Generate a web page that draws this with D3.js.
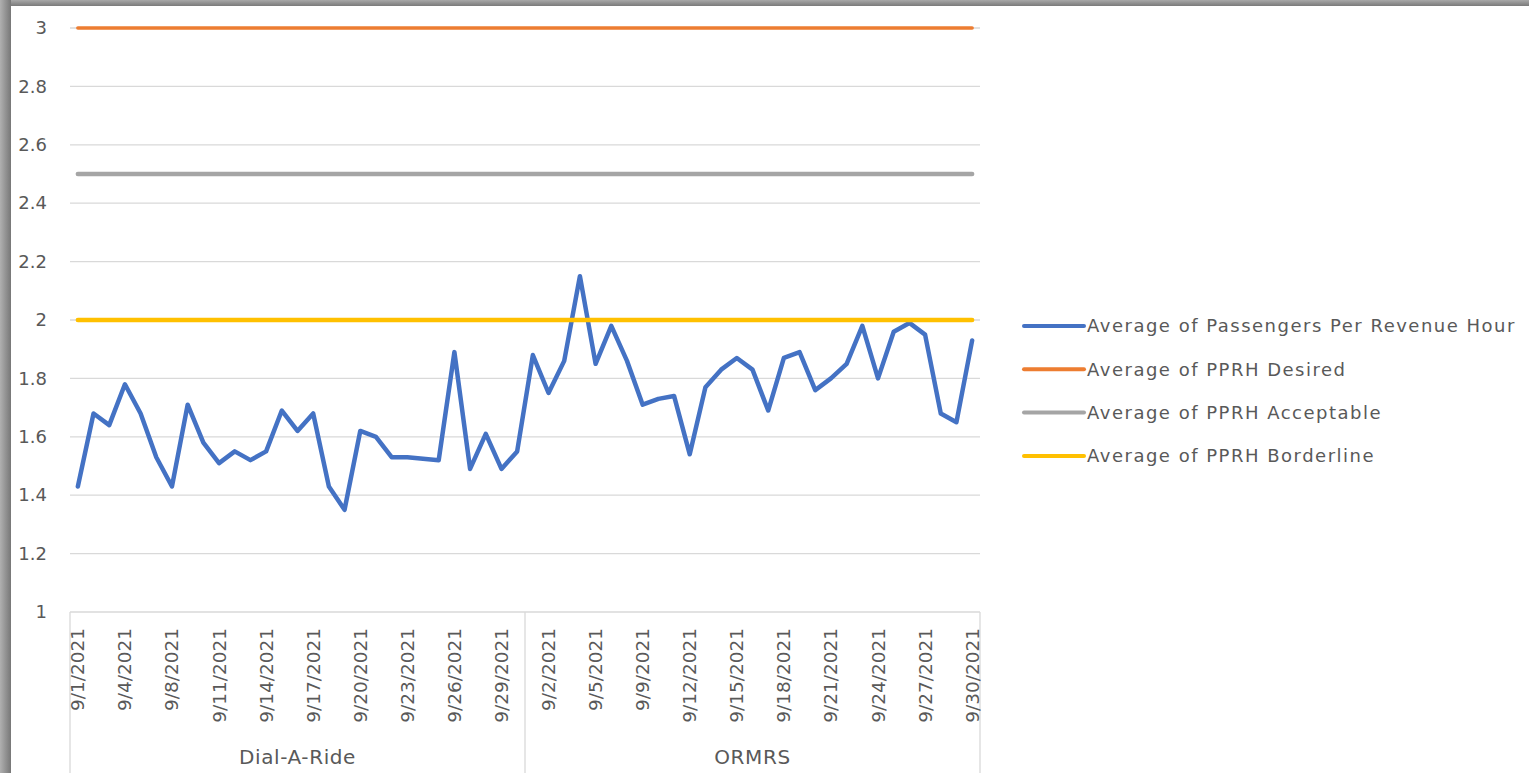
<!DOCTYPE html>
<html>
<head>
<meta charset="utf-8">
<script src="https://cdn.jsdelivr.net/npm/d3@7"></script>
<style>
  body { margin: 0; background: #fff; }
  svg { display: block; }
  text { font-family: "DejaVu Sans", sans-serif; fill: #595959; }
</style>
</head>
<body>
<svg width="1529" height="773"></svg>
<script>
// groups and their dates (one day missing from each group)
var groups = ['Dial-A-Ride', 'ORMRS'];
var darDates = ['9/1/2021','9/2/2021','9/3/2021','9/4/2021','9/5/2021','9/7/2021','9/8/2021','9/9/2021','9/10/2021','9/11/2021',
  '9/12/2021','9/13/2021','9/14/2021','9/15/2021','9/16/2021','9/17/2021','9/18/2021','9/19/2021','9/20/2021','9/21/2021',
  '9/22/2021','9/23/2021','9/24/2021','9/25/2021','9/26/2021','9/27/2021','9/28/2021','9/29/2021','9/30/2021'];
var ormrsDates = ['9/1/2021','9/2/2021','9/3/2021','9/4/2021','9/5/2021','9/7/2021','9/8/2021','9/9/2021','9/10/2021','9/11/2021',
  '9/12/2021','9/13/2021','9/14/2021','9/15/2021','9/16/2021','9/17/2021','9/18/2021','9/19/2021','9/20/2021','9/21/2021',
  '9/22/2021','9/23/2021','9/24/2021','9/25/2021','9/26/2021','9/27/2021','9/28/2021','9/29/2021','9/30/2021'];

// Average of Passengers Per Revenue Hour
var darPPRH = [1.43,1.68,1.64,1.78,1.68,1.53,1.43,1.71,1.58,1.51,1.55,1.52,1.55,1.69,1.62,1.68,1.43,1.35,1.62,1.60,
  1.53,1.53,1.525,1.52,1.89,1.49,1.61,1.49,1.55];
var ormrsPPRH = [1.88,1.75,1.86,2.15,1.85,1.98,1.86,1.71,1.73,1.74,1.54,1.77,1.83,1.87,1.83,1.69,1.87,1.89,1.76,1.80,
  1.85,1.98,1.80,1.96,1.99,1.95,1.68,1.65,1.93];

// target levels
var desired = 3, acceptable = 2.5, borderline = 2;

var yTicks = [1, 1.2, 1.4, 1.6, 1.8, 2, 2.2, 2.4, 2.6, 2.8, 3];

var seriesNames = ['Average of Passengers Per Revenue Hour', 'Average of PPRH Desired',
  'Average of PPRH Acceptable', 'Average of PPRH Borderline'];
var colors = ['#4472C4', '#ED7D31', '#A5A5A5', '#FFC000'];

var svg = d3.select('svg');

// window frame shadow on top and left
var defs = svg.append('defs');
var gTop = defs.append('linearGradient').attr('id', 'gTop').attr('x1', 0).attr('x2', 0).attr('y1', 0).attr('y2', 1);
gTop.append('stop').attr('offset', '0%').attr('stop-color', '#a8a8a8');
gTop.append('stop').attr('offset', '100%').attr('stop-color', '#7a7a7a');
var gLeft = defs.append('linearGradient').attr('id', 'gLeft');
gLeft.append('stop').attr('offset', '0%').attr('stop-color', '#b0b0b0');
gLeft.append('stop').attr('offset', '100%').attr('stop-color', '#777');
svg.append('rect').attr('x', 0).attr('y', 0).attr('width', 1529).attr('height', 6).attr('fill', 'url(#gTop)');
svg.append('rect').attr('x', 0).attr('y', 0).attr('width', 11).attr('height', 773).attr('fill', 'url(#gLeft)');

// build rows
var rows = [];
darDates.forEach(function(d, i) { rows.push({group: groups[0], date: d, v: darPPRH[i]}); });
ormrsDates.forEach(function(d, i) { rows.push({group: groups[1], date: d, v: ormrsPPRH[i]}); });
rows.forEach(function(d, i) { d.i = i; });

var plot = {l: 70, r: 980, t: 28, b: 612};

var x = d3.scaleBand()
  .domain(rows.map(function(d) { return d.i; }))
  .range([plot.l, plot.r]);
var cx = function(i) { return x(i) + x.bandwidth() / 2; };

var y = d3.scaleLinear()
  .domain([1, 3])
  .range([plot.b, plot.t]);

// gridlines
svg.append('g')
  .selectAll('line')
  .data(yTicks.slice(1))
  .enter()
  .append('line')
  .attr('x1', plot.l).attr('x2', plot.r)
  .attr('y1', function(d) { return y(d); })
  .attr('y2', function(d) { return y(d); })
  .attr('stroke', '#d9d9d9')
  .attr('stroke-width', 1.3);

// y axis labels
var yAxis = d3.axisLeft(y).tickValues(yTicks).tickSize(0).tickPadding(23).tickFormat(d3.format('~g'));
var yg = svg.append('g').attr('transform', 'translate(' + plot.l + ',0)').call(yAxis);
yg.select('.domain').remove();
yg.selectAll('text').style('font-size', '18px').attr('fill', '#595959');

// x axis base line and group separators
var axisG = svg.append('g');
axisG.append('line')
  .attr('x1', plot.l).attr('x2', plot.r)
  .attr('y1', plot.b).attr('y2', plot.b)
  .attr('stroke', '#d9d9d9').attr('stroke-width', 1.3);

var bounds = [0, darDates.length, rows.length];
axisG.selectAll('.sep')
  .data(bounds)
  .enter()
  .append('line')
  .attr('class', 'sep')
  .attr('x1', function(d) { return d < rows.length ? x(d) : plot.r; })
  .attr('x2', function(d) { return d < rows.length ? x(d) : plot.r; })
  .attr('y1', plot.b).attr('y2', 773)
  .attr('stroke', '#d9d9d9').attr('stroke-width', 1.3);

// date labels, every third category
axisG.selectAll('.date')
  .data(rows.filter(function(d) { return d.i % 3 === 0; }))
  .enter()
  .append('text')
  .attr('class', 'date')
  .attr('transform', function(d) { return 'translate(' + (cx(d.i) + 6.5) + ',' + (plot.b + 16) + ') rotate(-90)'; })
  .attr('text-anchor', 'end')
  .style('font-size', '18.5px')
  .text(function(d) { return d.date; });

// group labels
axisG.selectAll('.grp')
  .data(groups)
  .enter()
  .append('text')
  .attr('class', 'grp')
  .attr('x', function(d, k) { return (x(bounds[k]) + (bounds[k + 1] < rows.length ? x(bounds[k + 1]) : plot.r)) / 2; })
  .attr('y', 764)
  .attr('text-anchor', 'middle')
  .style('font-size', '20px')
  .style('letter-spacing', '0.6px')
  .text(function(d) { return d; });

// series
var line = d3.line()
  .x(function(d) { return cx(d.i); })
  .y(function(d) { return y(d.v); });

var series = [
  rows,
  rows.map(function(d) { return {i: d.i, v: desired}; }),
  rows.map(function(d) { return {i: d.i, v: acceptable}; }),
  rows.map(function(d) { return {i: d.i, v: borderline}; })
];

svg.append('g')
  .selectAll('path')
  .data(series)
  .enter()
  .append('path')
  .attr('d', line)
  .attr('fill', 'none')
  .attr('stroke', function(d, k) { return colors[k]; })
  .attr('stroke-width', function(d, k) { return k === 1 ? 3.5 : 4.5; })
  .attr('stroke-linejoin', 'round')
  .attr('stroke-linecap', 'round');

// legend
var legend = svg.append('g')
  .selectAll('g')
  .data(seriesNames)
  .enter()
  .append('g')
  .attr('transform', function(d, k) { return 'translate(1024,' + (326 + k * 43.3) + ')'; });

legend.append('line')
  .attr('x1', 0).attr('x2', 60)
  .attr('stroke', function(d, k) { return colors[k]; })
  .attr('stroke-width', 4)
  .attr('stroke-linecap', 'round');

legend.append('text')
  .attr('x', 63)
  .attr('dy', '0.35em')
  .style('font-size', '18px')
  .style('letter-spacing', '1.5px')
  .text(function(d) { return d; });
</script>
</body>
</html>
